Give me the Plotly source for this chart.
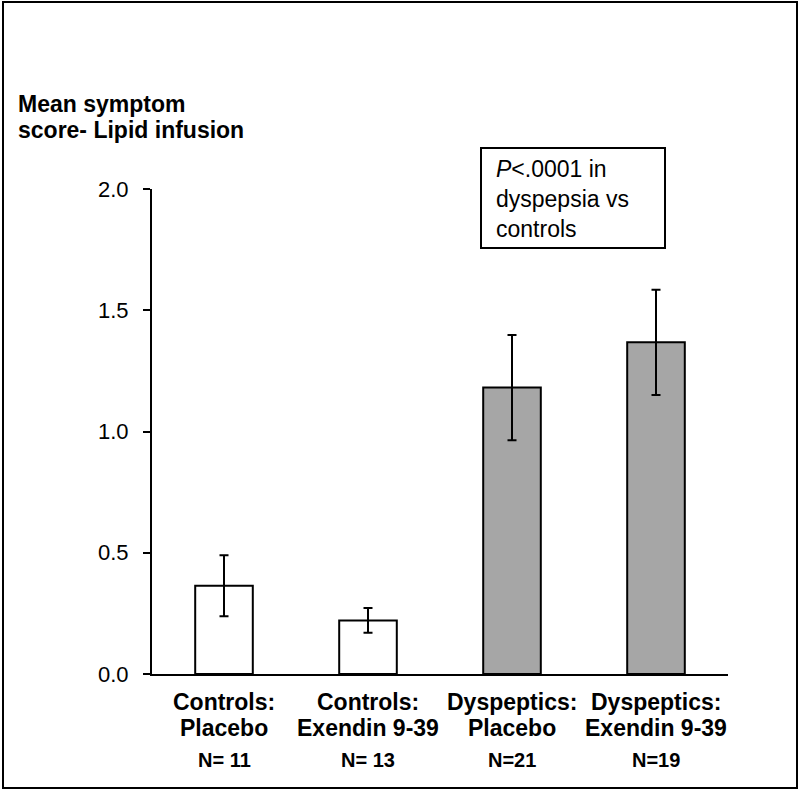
import plotly.graph_objects as go

# Data
categories = ["Controls: Placebo", "Controls: Exendin 9-39", "Dyspeptics: Placebo", "Dyspeptics: Exendin 9-39"]
label_line1 = ["Controls:", "Controls:", "Dyspeptics:", "Dyspeptics:"]
label_line2 = ["Placebo", "Exendin 9-39", "Placebo", "Exendin 9-39"]
n_labels = ["N= 11", "N= 13", "N=21", "N=19"]
means = [0.364, 0.221, 1.181, 1.368]
errors = [0.126, 0.051, 0.217, 0.217]
bar_colors = ["#ffffff", "#ffffff", "#a6a6a6", "#a6a6a6"]
y_ticks = [0.0, 0.5, 1.0, 1.5, 2.0]
y_title_lines = ["Mean symptom", "score- Lipid infusion"]
p_text = "<i>P</i><.0001 in<br>dyspepsia vs<br>controls"

FONT = "Liberation Sans, Arial, sans-serif"

x_idx = list(range(len(categories)))

fig = go.Figure()
fig.add_trace(go.Bar(
    x=x_idx, y=means, width=0.4,
    marker=dict(color=bar_colors, line=dict(color="black", width=2)),
    error_y=dict(type="data", array=errors, visible=True, color="black", thickness=2, width=4.5),
    showlegend=False, hoverinfo="skip",
))

L, R, T, B = 152, 71, 189, 117
W, H = 799, 791
pw, ph = W - L - R, H - T - B

def px_x(px):
    return (px - L) / pw

def px_y(py):
    return (H - B - py) / ph

annotations = []
# category labels
for i in x_idx:
    for txt, py, sz in ((label_line1[i], 702, 23), (label_line2[i], 728, 23), (n_labels[i], 760, 20)):
        annotations.append(dict(
            x=i, xref="x", y=px_y(py), yref="paper", text="<b>%s</b>" % txt,
            showarrow=False, xanchor="center", yanchor="middle",
            font=dict(family=FONT, size=sz, color="black"),
        ))
# y title
for txt, py in zip(y_title_lines, (104, 130)):
    annotations.append(dict(
        x=px_x(16), xref="paper", y=px_y(py), yref="paper", text="<b>%s</b>" % txt,
        showarrow=False, xanchor="left", yanchor="middle",
        font=dict(family=FONT, size=23, color="black"),
    ))
# p-value text
annotations.append(dict(
    x=px_x(494), xref="paper", y=px_y(199), yref="paper", text=p_text,
    showarrow=False, xanchor="left", yanchor="middle", align="left",
    font=dict(family=FONT, size=23, color="black"),
))

shapes = [
    dict(type="rect", xref="paper", yref="paper",
         x0=px_x(481), x1=px_x(665), y0=px_y(248), y1=px_y(148),
         line=dict(color="black", width=2), fillcolor="rgba(0,0,0,0)"),
    dict(type="rect", xref="paper", yref="paper",
         x0=px_x(3), x1=px_x(797), y0=px_y(788), y1=px_y(2),
         line=dict(color="black", width=2), fillcolor="rgba(0,0,0,0)"),
]

fig.update_layout(
    width=W, height=H,
    margin=dict(l=L, r=R, t=T, b=B, pad=0),
    paper_bgcolor="white", plot_bgcolor="white",
    font=dict(family=FONT, size=22, color="black"),
    annotations=annotations, shapes=shapes,
    bargap=0.6,
)
fig.update_xaxes(
    range=[-0.5, 3.5], showticklabels=False, ticks="", showgrid=False, zeroline=False,
    showline=True, linecolor="black", linewidth=2,
)
fig.update_yaxes(
    range=[0, 2.0], tickvals=y_ticks, ticktext=["%.1f" % v for v in y_ticks],
    ticks="outside", ticklen=7, tickwidth=2, tickcolor="black", ticklabelstandoff=10,
    showgrid=False, zeroline=False, showline=True, linecolor="black", linewidth=2,
    tickfont=dict(family=FONT, size=22, color="black"),
)

fig.write_html(
    "out.html",
    config={"displayModeBar": False},
    post_script="document.body.style.margin='0';document.body.style.padding='0';",
)
